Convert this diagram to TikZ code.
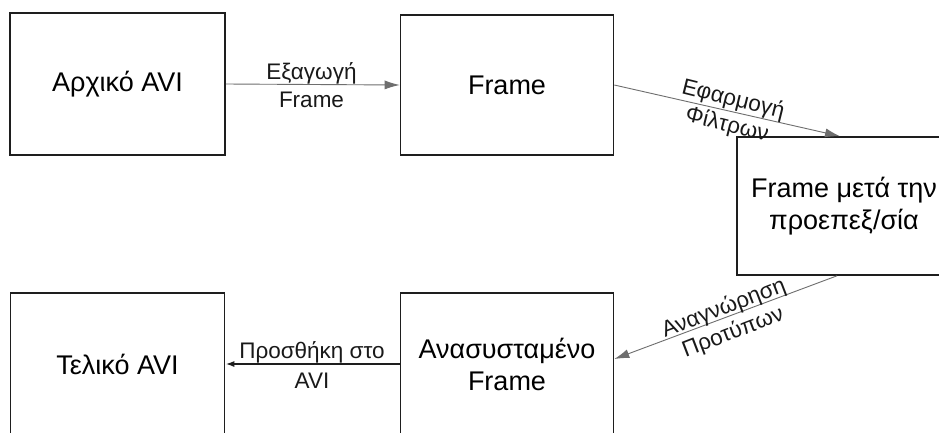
\documentclass[tikz,border=0pt]{standalone}
\usepackage{fontspec}
\setmainfont{Liberation Sans}
\usetikzlibrary{arrows.meta}
\definecolor{edge}{HTML}{1E1E1E}
\definecolor{wire}{HTML}{6E6E6E}
\tikzset{
  stage/.style={draw=edge, line width=1.6pt, fill=white, align=center,
    font=\fontsize{27}{32}\selectfont, inner sep=0pt},
  flow/.style={draw=wire, line width=0.9pt,
    -{Latex[length=15pt,width=9pt]}},
  flowdark/.style={draw=edge, line width=1.8pt,
    -{Latex[length=9pt,width=6pt]}},
  tag/.style={font=\fontsize{22.5}{26}\selectfont, inner sep=0pt,
    text=black!90, align=center}
}
\begin{document}
\begin{tikzpicture}[x=1pt,y=-1pt]
  \useasboundingbox (0,0) rectangle (939,432);
  \clip (0,0) rectangle (939,432);
  \fill[white] (0,0) rectangle (939,432);

  % processing stages
  \node[stage, minimum width=215pt, minimum height=142pt] (src) at (117.5,84) {Αρχικό AVI};
  \node[stage, minimum width=213pt, minimum height=140pt] (frm) at (507,85) {Frame};
  \node[stage, minimum width=214pt, minimum height=138pt] (pre) at (844,206) {Frame μετά την\\προεπεξ/σία};
  \node[stage, minimum width=213pt, minimum height=142pt] (rec) at (507,364) {Ανασυσταμένο\\Frame};
  \node[stage, minimum width=214pt, minimum height=142pt] (out) at (117.5,364) {Τελικό AVI};

  % connectors
  \draw[flow] (src.east) -- (frm.west);
  \draw[flow] (frm.east) -- ([xshift=-4pt]pre.north);
  \draw[flow] ([xshift=-7pt]pre.south) -- ([yshift=5pt]rec.east);
  \draw[flowdark] (rec.west) -- (out.east);

  % connector labels (two lines each, the connector runs between them)
  \node[tag, font=\fontsize{22.5}{28}\selectfont] (l1) at (311.5,85) {Εξαγωγή\\Frame};
  \node[tag, rotate=-14] (l2) at (730,112.5) {Εφαρμογή\\Φίλτρων};
  \node[tag, rotate=21] (l3) at (728.5,320.5) {Αναγνώρηση\\Προτύπων};
  \node[tag, font=\fontsize{22.5}{30}\selectfont] (l4) at (312,365) {Προσθήκη στο\\AVI};
\end{tikzpicture}
\end{document}
